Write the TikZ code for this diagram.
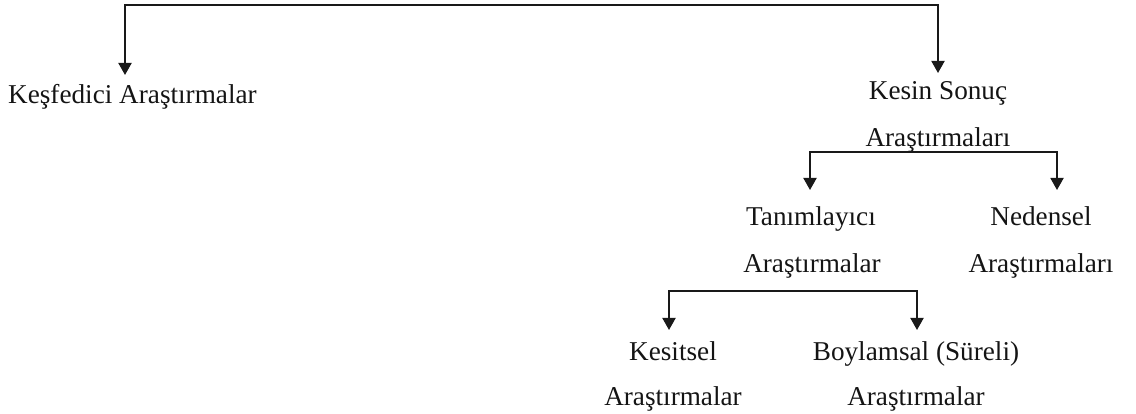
\documentclass[tikz,border=0pt]{standalone}
\usepackage{fontspec}
\setmainfont{Liberation Serif}
\usetikzlibrary{arrows.meta}
\tikzset{
  lbl/.style={inner sep=0pt, anchor=base, font=\fontsize{27.2}{32}\selectfont, text=black!92},
  arr/.style={line width=1.9pt, draw=black!90, {Triangle[width=13pt,length=12pt]}-{Triangle[width=13pt,length=12pt]}},
}
\begin{document}
\begin{tikzpicture}[x=1pt,y=-1pt]
\useasboundingbox (0,0) rectangle (1136,414);
% labels
\node[lbl, anchor=base west] (kesif) at (8,104) {Keşfedici Araştırmalar};
\node[lbl] (kesin) at (938,100) {Kesin Sonuç};
\node[lbl] (kesin2) at (938,147) {Araştırmaları};
\node[lbl] (tanim) at (811,226) {Tanımlayıcı};
\node[lbl] (tanim2) at (812,273) {Araştırmalar};
\node[lbl] (neden) at (1041,226) {Nedensel};
\node[lbl] (neden2) at (1041,273) {Araştırmaları};
\node[lbl] (kesit) at (673,360) {Kesitsel};
\node[lbl] (kesit2) at (673,405) {Araştırmalar};
\node[lbl] (boy) at (916,360) {Boylamsal (Süreli)};
\node[lbl] (boy2) at (916,405) {Araştırmalar};
% arrow tips
\coordinate (tKesif) at (125,75);
\coordinate (tKesin) at (938,73);
\coordinate (tTanim) at (810,190);
\coordinate (tNeden) at (1057,190);
\coordinate (tKesit) at (669,330);
\coordinate (tBoy) at (917,330);
% connectors
\draw[arr] (tKesif) |- (938,5) -- (tKesin);
\draw[arr] (tTanim) |- (1057,152) -- (tNeden);
\draw[arr] (tKesit) |- (917,291) -- (tBoy);
\end{tikzpicture}
\end{document}
